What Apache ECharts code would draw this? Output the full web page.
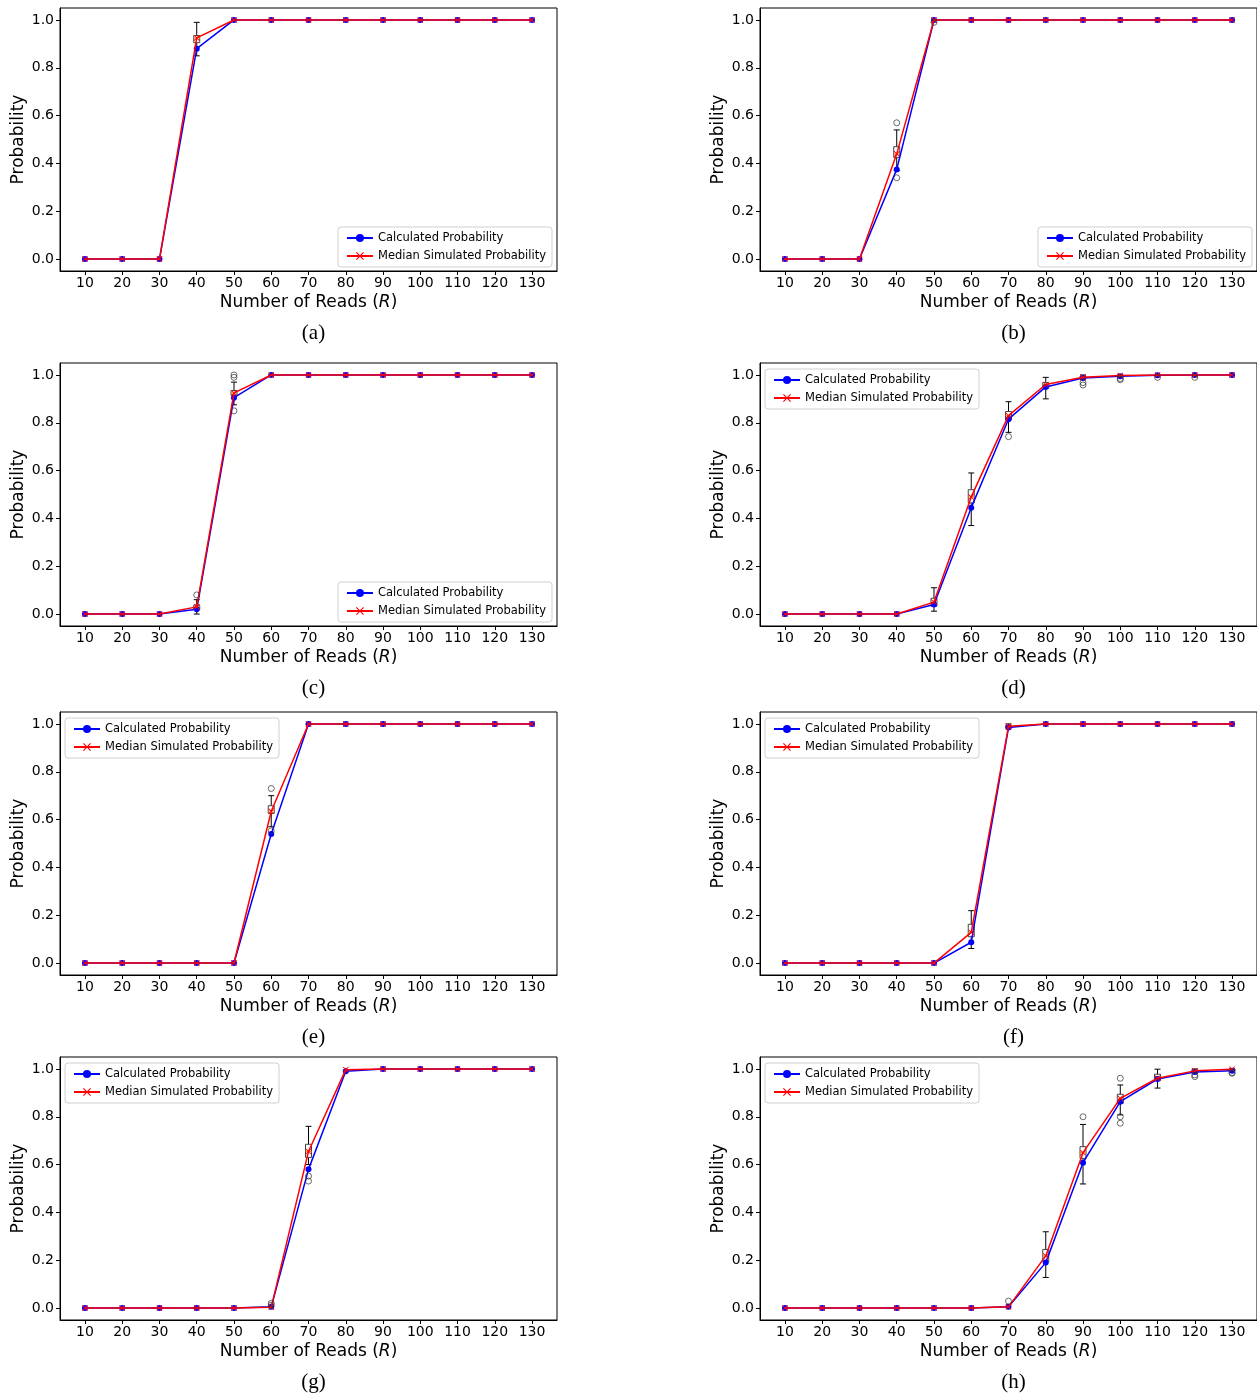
<!DOCTYPE html>
<html>
<head>
<meta charset="utf-8">
<script src="https://cdn.jsdelivr.net/npm/echarts@6.0.0/dist/echarts.min.js"></script>
<style>
html, body { margin: 0; padding: 0; background: #fff; }
#chart { width: 1257px; height: 1395px; }
</style>
</head>
<body>
<div id="chart"></div>
<script>
// x positions and y ticks
const reads = [10, 20, 30, 40, 50, 60, 70, 80, 90, 100, 110, 120, 130];
const yTicks = [0, 0.2, 0.4, 0.6, 0.8, 1.0];

// box stats: [reads, min, q1, median, q3, max]
const calcA = [0, 0, 0, 0.88, 1, 1, 1, 1, 1, 1, 1, 1, 1];
const medA = [0, 0, 0, 0.925, 1, 1, 1, 1, 1, 1, 1, 1, 1];
const boxA = [[40, 0.85, 0.905, 0.925, 0.935, 0.99]];
const outA = [];

const calcB = [0, 0, 0, 0.375, 1, 1, 1, 1, 1, 1, 1, 1, 1];
const medB = [0, 0, 0, 0.44, 1, 1, 1, 1, 1, 1, 1, 1, 1];
const boxB = [[40, 0.37, 0.425, 0.44, 0.47, 0.54]];
const outB = [[40, 0.57], [40, 0.34], [50, 0.99]];

const calcC = [0, 0, 0, 0.02, 0.905, 1, 1, 1, 1, 1, 1, 1, 1];
const medC = [0, 0, 0, 0.03, 0.925, 1, 1, 1, 1, 1, 1, 1, 1];
const boxC = [[40, 0, 0.018, 0.03, 0.038, 0.06], [50, 0.875, 0.915, 0.925, 0.935, 0.97]];
const outC = [[40, 0.08], [50, 1.0], [50, 0.99], [50, 0.85]];

const calcD = [0, 0, 0, 0, 0.04, 0.445, 0.815, 0.95, 0.987, 0.995, 0.999, 1, 1];
const medD = [0, 0, 0, 0, 0.05, 0.49, 0.83, 0.96, 0.99, 0.998, 1, 1, 1];
const boxD = [[50, 0.012, 0.033, 0.05, 0.066, 0.11], [60, 0.37, 0.465, 0.49, 0.52, 0.59],
  [70, 0.76, 0.812, 0.83, 0.847, 0.888], [80, 0.9, 0.944, 0.96, 0.968, 0.99],
  [90, 0.98, 0.986, 0.99, 0.995, 1.0], [100, 0.99, 0.995, 0.998, 1, 1]];
const outD = [[70, 0.742], [90, 0.968], [90, 0.958], [100, 0.985], [100, 0.98], [110, 0.99], [120, 0.99]];

const calcE = [0, 0, 0, 0, 0, 0.54, 1, 1, 1, 1, 1, 1, 1];
const medE = [0, 0, 0, 0, 0, 0.635, 1, 1, 1, 1, 1, 1, 1];
const boxE = [[60, 0.57, 0.626, 0.637, 0.658, 0.70]];
const outE = [[60, 0.73], [60, 0.553]];

const calcF = [0, 0, 0, 0, 0, 0.087, 0.985, 1, 1, 1, 1, 1, 1];
const medF = [0, 0, 0, 0, 0, 0.128, 0.99, 1, 1, 1, 1, 1, 1];
const boxF = [[60, 0.061, 0.11, 0.128, 0.162, 0.219], [70, 0.98, 0.985, 0.99, 0.993, 1.0]];
const outF = [];

const calcG = [0, 0, 0, 0, 0, 0.005, 0.58, 0.99, 1, 1, 1, 1, 1];
const medG = [0, 0, 0, 0, 0, 0.003, 0.655, 0.997, 1, 1, 1, 1, 1];
const boxG = [[70, 0.6, 0.63, 0.655, 0.685, 0.76]];
const outG = [[60, 0.02], [60, 0.012], [70, 0.552], [70, 0.531]];

const calcH = [0, 0, 0, 0, 0, 0, 0.005, 0.19, 0.608, 0.863, 0.958, 0.987, 0.993];
const medH = [0, 0, 0, 0, 0, 0, 0.005, 0.218, 0.65, 0.877, 0.961, 0.992, 0.999];
const boxH = [[80, 0.128, 0.194, 0.218, 0.245, 0.319], [90, 0.519, 0.626, 0.65, 0.675, 0.768],
  [100, 0.808, 0.856, 0.877, 0.894, 0.933], [110, 0.92, 0.951, 0.961, 0.978, 0.999],
  [120, 0.985, 0.985, 0.992, 0.996, 1.0], [130, 0.99, 0.99, 0.999, 1, 1]];
const outH = [[70, 0.029], [90, 0.8], [100, 0.961], [100, 0.8], [100, 0.773],
  [120, 0.975], [120, 0.968], [130, 0.982], [130, 0.985]];

const panels = [
  { calc: calcA, med: medA, box: boxA, out: outA, label: '(a)', col: 0, row: 0, legend: 'br' },
  { calc: calcB, med: medB, box: boxB, out: outB, label: '(b)', col: 1, row: 0, legend: 'br' },
  { calc: calcC, med: medC, box: boxC, out: outC, label: '(c)', col: 0, row: 1, legend: 'br' },
  { calc: calcD, med: medD, box: boxD, out: outD, label: '(d)', col: 1, row: 1, legend: 'tl' },
  { calc: calcE, med: medE, box: boxE, out: outE, label: '(e)', col: 0, row: 2, legend: 'tl' },
  { calc: calcF, med: medF, box: boxF, out: outF, label: '(f)', col: 1, row: 2, legend: 'tl' },
  { calc: calcG, med: medG, box: boxG, out: outG, label: '(g)', col: 0, row: 3, legend: 'tl' },
  { calc: calcH, med: medH, box: boxH, out: outH, label: '(h)', col: 1, row: 3, legend: 'tl' }
];

const W = 1257;
const colLeft = [60, 760];
const rowTop = [8, 363, 712, 1057];
const gridW = 497;
const gridH = 263;
const font = 'DejaVu Sans';
const crossPath = 'path://M1,0L5,4L9,0L10,1L6,5L10,9L9,10L5,6L1,10L0,9L4,5L0,1Z';
const names = ['Calculated Probability', 'Median Simulated Probability'];

function renderBox(params, api) {
  const x = api.value(0);
  const lo = api.coord([x, api.value(1)]);
  const q1 = api.coord([x, api.value(2)]);
  const md = api.coord([x, api.value(3)]);
  const q3 = api.coord([x, api.value(4)]);
  const hi = api.coord([x, api.value(5)]);
  const hw = 3;
  const cw = 3;
  const ln = { stroke: '#000', lineWidth: 1 };
  return {
    type: 'group',
    children: [
      { type: 'line', shape: { x1: lo[0], y1: lo[1], x2: q1[0], y2: q1[1] }, style: ln },
      { type: 'line', shape: { x1: q3[0], y1: q3[1], x2: hi[0], y2: hi[1] }, style: ln },
      { type: 'line', shape: { x1: lo[0] - cw, y1: lo[1], x2: lo[0] + cw, y2: lo[1] }, style: ln },
      { type: 'line', shape: { x1: hi[0] - cw, y1: hi[1], x2: hi[0] + cw, y2: hi[1] }, style: ln },
      { type: 'rect', shape: { x: q3[0] - hw, y: q3[1], width: hw * 2, height: q1[1] - q3[1] },
        style: { fill: 'rgba(255,255,255,0)', stroke: '#444', lineWidth: 1 } },
      { type: 'line', shape: { x1: md[0] - hw, y1: md[1], x2: md[0] + hw, y2: md[1] },
        style: { stroke: '#ff7f0e', lineWidth: 1 } }
    ]
  };
}

const option = {
  animation: false,
  backgroundColor: '#fff',
  title: [],
  legend: [],
  grid: [],
  xAxis: [],
  yAxis: [],
  series: []
};

panels.forEach((p, i) => {
  const left = colLeft[p.col];
  const top = rowTop[p.row];
  option.grid.push({
    left: left, top: top, width: gridW, height: gridH,
    show: true, borderColor: '#000', borderWidth: 1, backgroundColor: '#fff'
  });
  option.title.push({
    text: p.label,
    left: left + gridW / 2,
    top: top + 310,
    textAlign: 'center',
    textStyle: { fontFamily: 'Liberation Serif', fontSize: 21, fontWeight: 'normal', color: '#000' }
  });
  const lg = {
    data: names,
    orient: 'vertical',
    itemWidth: 26,
    itemHeight: 10,
    itemGap: 6,
    padding: [5, 6, 5, 8],
    borderColor: '#d0d0d0',
    borderWidth: 1,
    borderRadius: 3,
    backgroundColor: 'rgba(255,255,255,0.85)',
    selectedMode: false,
    textStyle: { fontFamily: font, fontSize: 11.5, color: '#000' }
  };
  if (p.legend === 'br') {
    lg.right = W - (left + gridW) + 5;
    lg.top = top + gridH - 44;
  } else {
    lg.left = left + 5;
    lg.top = top + 6;
  }
  option.legend.push(lg);
  option.xAxis.push({
    type: 'value',
    gridIndex: i,
    min: 3.3,
    max: 136.7,
    name: 'Number of Reads ({i|R})',
    nameLocation: 'middle',
    nameGap: 23,
    nameTextStyle: {
      fontFamily: font, fontSize: 17, color: '#000',
      rich: { i: { fontFamily: font, fontSize: 17, fontStyle: 'italic', color: '#000' } }
    },
    splitLine: { show: false },
    axisLine: { show: true, onZero: false, lineStyle: { color: '#000' } },
    axisTick: { show: true, length: 4, customValues: reads, lineStyle: { color: '#000' } },
    axisLabel: { customValues: reads, fontFamily: font, fontSize: 14, color: '#000', margin: 5 }
  });
  option.yAxis.push({
    type: 'value',
    gridIndex: i,
    min: -0.05,
    max: 1.05,
    name: 'Probability',
    nameLocation: 'middle',
    nameGap: 33,
    nameTextStyle: { fontFamily: font, fontSize: 17, color: '#000' },
    splitLine: { show: false },
    axisLine: { show: true, onZero: false, lineStyle: { color: '#000' } },
    axisTick: { show: true, length: 4, customValues: yTicks, lineStyle: { color: '#000' } },
    axisLabel: {
      customValues: yTicks, fontFamily: font, fontSize: 14, color: '#000', margin: 6,
      formatter: (v) => v.toFixed(1)
    }
  });
  option.series.push({
    type: 'custom',
    xAxisIndex: i,
    yAxisIndex: i,
    renderItem: renderBox,
    data: p.box,
    z: 2
  });
  option.series.push({
    type: 'line',
    name: names[0],
    xAxisIndex: i,
    yAxisIndex: i,
    data: reads.map((r, k) => [r, p.calc[k]]),
    symbol: 'circle',
    symbolSize: 6,
    showAllSymbol: true,
    color: '#0000ff',
    lineStyle: { color: '#0000ff', width: 1.5 },
    itemStyle: { color: '#0000ff' },
    z: 3
  });
  option.series.push({
    type: 'line',
    name: names[1],
    xAxisIndex: i,
    yAxisIndex: i,
    data: reads.map((r, k) => [r, p.med[k]]),
    symbol: crossPath,
    symbolSize: 6,
    showAllSymbol: true,
    color: '#ff0000',
    lineStyle: { color: '#ff0000', width: 1.5 },
    itemStyle: { color: '#ff0000' },
    z: 4
  });
  option.series.push({
    type: 'scatter',
    xAxisIndex: i,
    yAxisIndex: i,
    data: p.out,
    symbol: 'circle',
    symbolSize: 6,
    itemStyle: { color: 'rgba(255,255,255,0)', borderColor: '#333', borderWidth: 0.9 },
    z: 5
  });
});

const chart = echarts.init(document.getElementById('chart'));
chart.setOption(option);
window.onresize = chart.resize;
</script>
</body>
</html>
